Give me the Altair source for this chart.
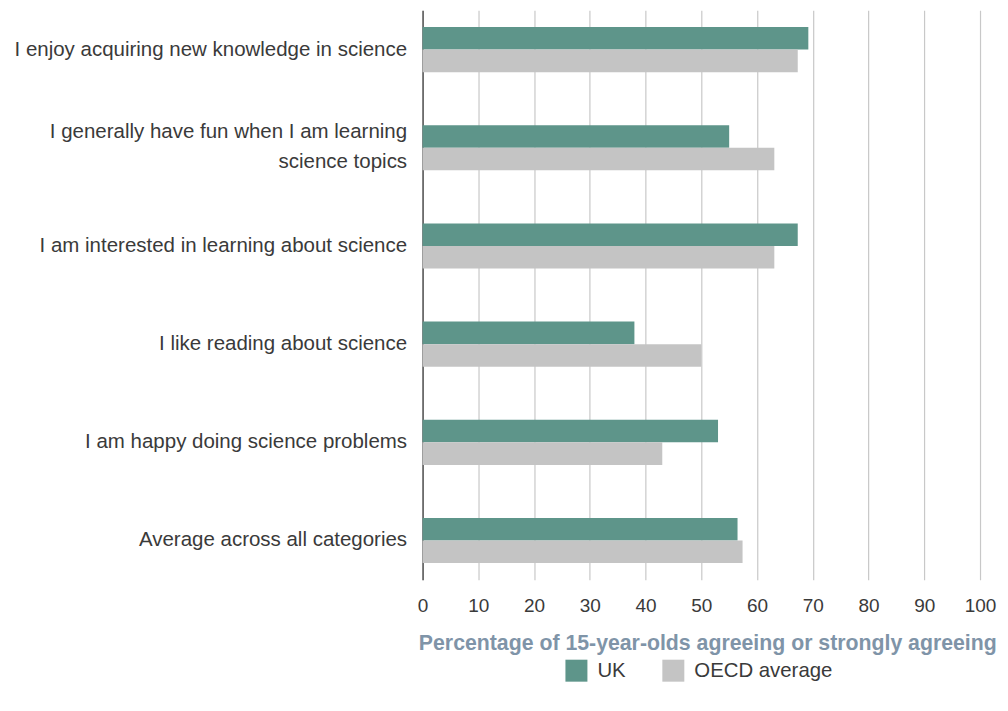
import altair as alt
import pandas as pd

categories = [
    "I enjoy acquiring new knowledge in science",
    "I generally have fun when I am learning science topics",
    "I am interested in learning about science",
    "I like reading about science",
    "I am happy doing science problems",
    "Average across all categories",
]
uk = [69.2, 55.0, 67.3, 38.0, 53.0, 56.5]
oecd = [67.3, 63.1, 63.1, 50.0, 43.0, 57.4]
series = ["UK", "OECD average"]
colors = ["#5E958A", "#C4C4C4"]

rows = []
for c, u, o in zip(categories, uk, oecd):
    rows.append({"category": c, "series": "UK", "value": u})
    rows.append({"category": c, "series": "OECD average", "value": o})
df = pd.DataFrame(rows)

two_line = "I generally have fun when I am learning science topics"
label_expr = (
    f"datum.value == '{two_line}' "
    "? ['I generally have fun when I am learning', 'science topics'] : datum.value"
)

font = "Liberation Sans"

chart = alt.Chart(df).mark_bar().encode(
    y=alt.Y(
        "category:N",
        sort=categories,
        scale=alt.Scale(paddingInner=0.54, paddingOuter=0.17),
        axis=alt.Axis(
            title=None,
            labelExpr=label_expr,
            labelFont=font,
            labelFontSize=20.5,
            labelColor="#3a3a3a",
            labelPadding=16,
            labelLimit=420,
            labelLineHeight=30,
            labelOffset={"condition": {"test": f"datum.value == '{two_line}'", "value": -16}, "value": 0},
            ticks=False,
            domain=True,
            domainColor="#555555",
            domainWidth=1.5,
            grid=False,
        ),
    ),
    yOffset=alt.YOffset("series:N", sort=series, scale=alt.Scale(paddingInner=0, paddingOuter=0)),
    x=alt.X(
        "value:Q",
        scale=alt.Scale(domain=[0, 100], nice=False),
        axis=alt.Axis(
            values=list(range(0, 101, 10)),
            title="Percentage of 15-year-olds agreeing or strongly agreeing",
            titleFont=font,
            titleFontSize=21.3,
            titleFontWeight="bold",
            titleColor="#7F94A8",
            titlePadding=17,
            titleX=285,
            titleAlign="center",
            labelFont=font,
            labelFontSize=19,
            labelColor="#3a3a3a",
            labelPadding=17,
            labelFlush=False,
            ticks=False,
            domain=False,
            grid=True,
            gridColor="#C8C8C8",
            gridWidth=1.2,
        ),
    ),
    color=alt.Color(
        "series:N",
        sort=series,
        scale=alt.Scale(domain=series, range=colors),
        legend=alt.Legend(
            title=None,
            orient="none",
            legendX=143,
            legendY=650,
            direction="horizontal",
            symbolType="square",
            symbolSize=484,
            symbolStrokeWidth=0,
            labelFont=font,
            labelFontSize=20.4,
            labelColor="#3a3a3a",
            labelOffset=10,
            columnPadding=36,
        ),
    ),
).properties(
    width=558,
    height=570,
    autosize=alt.AutoSizeParams(type="none"),
    padding={"left": 415, "top": 2, "right": 20, "bottom": 120},
).configure_view(stroke=None)

chart.save("out.html", embed_options={"renderer": "svg", "actions": False})
